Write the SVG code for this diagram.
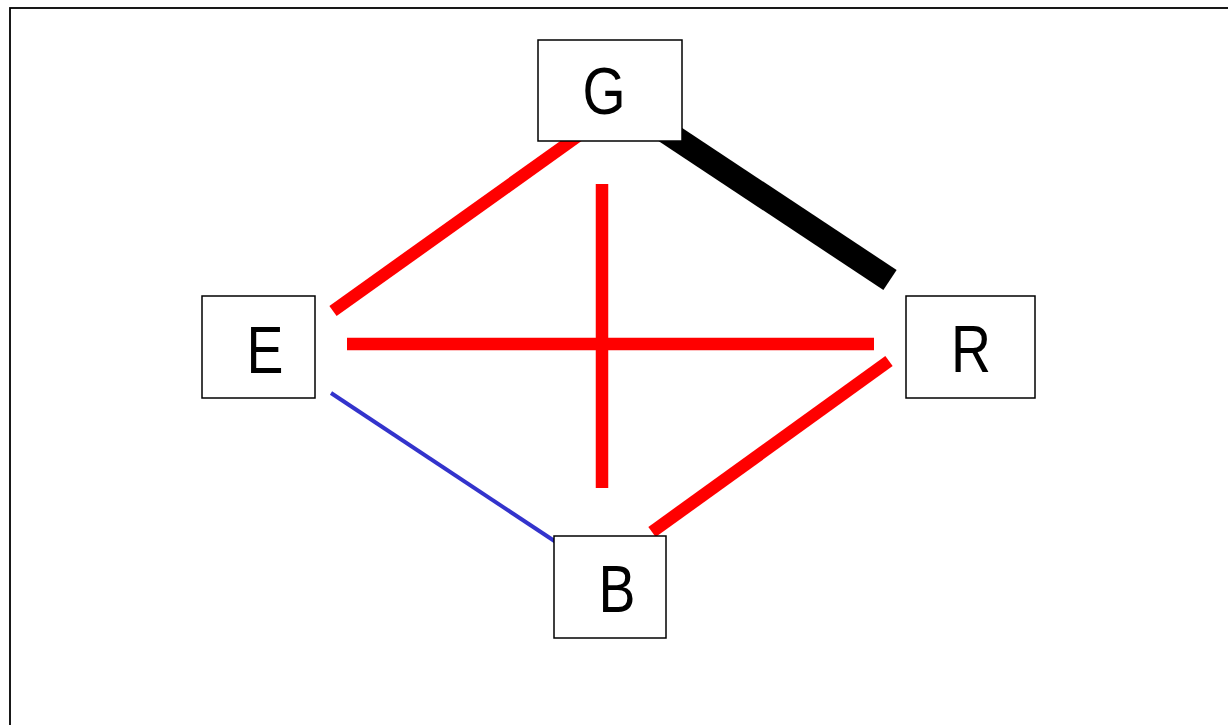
<svg xmlns="http://www.w3.org/2000/svg" width="1228" height="725" viewBox="0 0 1228 725">
<style>
.box{fill:#fff;stroke:#000;stroke-width:1.5}
.lbl{font-family:"Liberation Sans",Arial,sans-serif;font-size:66px;fill:#000;text-anchor:middle}
.red{stroke:#ff0000;stroke-width:12.5;fill:none}
</style>
<rect x="0" y="0" width="1228" height="725" fill="#fff"/>
<rect x="10" y="8" width="1240" height="740" fill="none" stroke="#000" stroke-width="1.8"/>
<g id="connectors">
<line class="red" x1="333" y1="311" x2="578" y2="136"/>
<line x1="650" y1="121" x2="890" y2="280" stroke="#000" stroke-width="24"/>
<line class="red" x1="347" y1="344" x2="874" y2="344"/>
<line class="red" x1="602" y1="184" x2="602" y2="488"/>
<line class="red" x1="889" y1="361" x2="652" y2="532"/>
<line x1="331" y1="393" x2="565" y2="548" stroke="#3333cc" stroke-width="4"/>
</g>
<g id="node-G">
<rect class="box" x="538" y="40" width="144" height="101"/>
<text class="lbl" transform="translate(604 114) scale(0.84 1)">G</text>
</g>
<g id="node-E">
<rect class="box" x="202" y="296" width="113" height="102"/>
<text class="lbl" transform="translate(265 373) scale(0.84 1)">E</text>
</g>
<g id="node-R">
<rect class="box" x="906" y="296" width="129" height="102"/>
<text class="lbl" transform="translate(971 372) scale(0.84 1)">R</text>
</g>
<g id="node-B">
<rect class="box" x="554" y="536" width="112" height="102"/>
<text class="lbl" transform="translate(617 612) scale(0.84 1)">B</text>
</g>
</svg>
